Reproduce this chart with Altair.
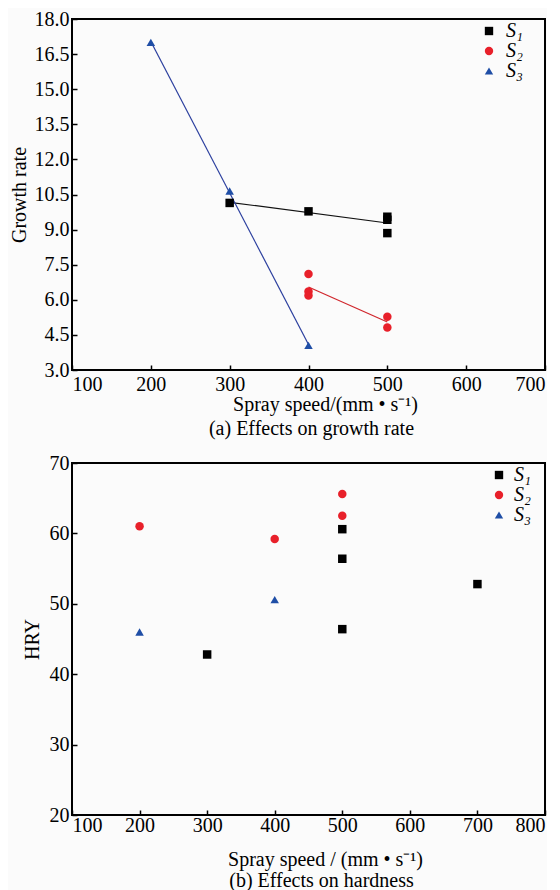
import altair as alt
import pandas as pd

FONT = "Liberation Serif"

series_order = ["S\u2081", "S\u2082", "S\u2083"]
point_colors = ["#000000", "#e8202a", "#1f4ea6"]
line_colors = ["#111111", "#d0262c", "#2b3f9e"]
shapes = ["square", "circle", "triangle-up"]

# (a) growth rate
a_s1_x = [300, 400, 500, 500, 500]
a_s1_y = [10.14, 9.78, 9.55, 9.42, 8.85]
a_s2_x = [400, 400, 400, 500, 500]
a_s2_y = [7.10, 6.36, 6.18, 5.28, 4.82]
a_s3_x = [200, 300, 400]
a_s3_y = [17.0, 10.65, 4.05]

# (b) hardness
b_s1_x = [300, 500, 500, 500, 700]
b_s1_y = [42.8, 60.6, 56.4, 46.4, 52.8]
b_s2_x = [200, 400, 500, 500]
b_s2_y = [61.0, 59.2, 65.6, 62.5]
b_s3_x = [200, 400]
b_s3_y = [46.0, 50.6]

a_x_ticks = [100, 200, 300, 400, 500, 600, 700]
a_y_ticks = [3.0, 4.5, 6.0, 7.5, 9.0, 10.5, 12.0, 13.5, 15.0, 16.5, 18.0]
b_x_ticks = [100, 200, 300, 400, 500, 600, 700, 800]
b_y_ticks = [20, 30, 40, 50, 60, 70]


def frame(groups):
    rows = []
    for name, xs, ys in groups:
        for x, y in zip(xs, ys):
            rows.append({"series": name, "x": x, "y": y})
    return pd.DataFrame(rows)


df_a = frame([(series_order[0], a_s1_x, a_s1_y),
              (series_order[1], a_s2_x, a_s2_y),
              (series_order[2], a_s3_x, a_s3_y)])
df_b = frame([(series_order[0], b_s1_x, b_s1_y),
              (series_order[1], b_s2_x, b_s2_y),
              (series_order[2], b_s3_x, b_s3_y)])


def axis(values, title, fmt=None, label_pad=3, title_pad=4, title_x=None):
    kw = dict(values=values, title=title, offset=-5, tickSize=5, tickWidth=1.5,
              tickColor="#000", domain=False, grid=False,
              labelFont=FONT, labelFontSize=20, labelColor="#000",
              labelPadding=label_pad, titleFont=FONT, titleFontSize=20,
              titleFontWeight="normal", titleColor="#000", titlePadding=title_pad)
    if fmt:
        kw["format"] = fmt
    if title_x is not None:
        kw["titleX"] = title_x
    return alt.Axis(**kw)


def legend(x, y, label_offset):
    return alt.Legend(orient="none", legendX=x, legendY=y, title=None,
                      labelFont=FONT, labelFontSize=20, labelFontStyle="italic",
                      labelColor="#000", symbolSize=70, symbolStrokeWidth=0,
                      labelOffset=label_offset, rowPadding=0, padding=0)


def panel(df, xdom, ydom, xt, yt, xtitle, ytitle, fmt, caption, cap_dx, cap_off,
          with_lines, leg_x, leg_y, leg_off, height, xlabel_pad, xtitle_pad,
          ytitle_pad):
    x = alt.X("x:Q", scale=alt.Scale(domain=xdom, nice=False, zero=False),
              axis=axis(xt, xtitle, label_pad=xlabel_pad, title_pad=xtitle_pad,
                        title_x=253))
    y = alt.Y("y:Q", scale=alt.Scale(domain=ydom, nice=False, zero=False),
              axis=axis(yt, ytitle, fmt=fmt, label_pad=3, title_pad=ytitle_pad))
    pts = alt.Chart(df).mark_point(filled=True, opacity=1, size=72).encode(
        x=x, y=y,
        color=alt.Color("series:N", scale=alt.Scale(domain=series_order, range=point_colors),
                        legend=legend(leg_x, leg_y, leg_off)),
        shape=alt.Shape("series:N", scale=alt.Scale(domain=series_order, range=shapes),
                        legend=legend(leg_x, leg_y, leg_off)),
    )
    layers = []
    if with_lines:
        for name, col in zip(series_order, line_colors):
            layers.append(
                alt.Chart(df).transform_filter(alt.datum.series == name)
                .transform_regression("x", "y")
                .mark_line(strokeWidth=1.2, color=col)
                .encode(x=x, y=y)
            )
    layers.append(pts)
    return alt.layer(*layers).properties(
        width=473, height=height,
        title=alt.TitleParams(caption, orient="bottom", anchor="middle", font=FONT,
                              fontSize=20, fontWeight="normal", color="#000",
                              offset=cap_off, dx=cap_dx),
    )


top = panel(df_a, [100, 700], [3, 18], a_x_ticks, a_y_ticks,
            "Spray speed/(mm \u2022 s\u207b\u00b9)", "Growth rate", ".1f",
            "(a) Effects on growth rate", 3, 5, True, 407, 2, 7, 351, 4, 0, 5)
bottom = panel(df_b, [100, 800], [20, 70], b_x_ticks, b_y_ticks,
               "Spray speed / (mm \u2022 s\u207b\u00b9)", "HRY", None,
               "(b) Effects on hardness", 13, 2, False, 417, 2, 5, 352, 0, 14, 7)

chart = alt.vconcat(top, bottom, spacing=12).resolve_scale(
    color="independent", shape="independent"
).properties(
    padding={"left": 0, "top": 0, "right": 0, "bottom": 0},
    background="#fbfbfb",
).configure_axis(
    labelFont=FONT, titleFont=FONT
).configure_legend(
    labelFont=FONT
).configure_view(stroke="#000", strokeWidth=2)

chart.save("out.html", embed_options={"renderer": "svg", "actions": False})
